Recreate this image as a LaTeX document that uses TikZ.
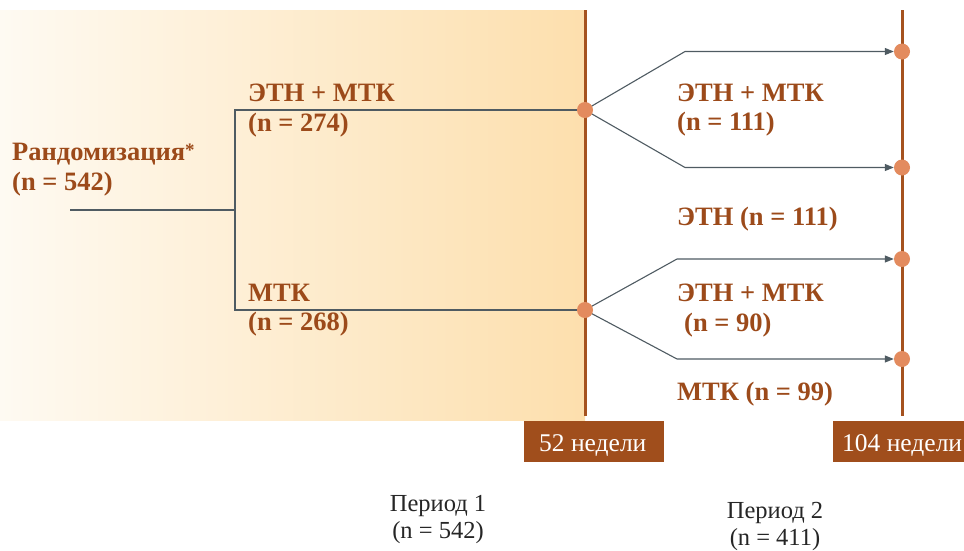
\documentclass[tikz,border=0pt]{standalone}
\usepackage{fontspec}
\setmainfont{Liberation Serif}
\usetikzlibrary{arrows.meta}
\definecolor{brown}{HTML}{9C4A1A}
\definecolor{axis}{HTML}{A5521F}
\definecolor{boxc}{HTML}{A04E1C}
\definecolor{dotc}{HTML}{E38B5E}
\definecolor{linec}{HTML}{4F5B62}
\definecolor{bgl}{HTML}{FEFAF2}
\definecolor{bgr}{HTML}{FDDFAD}
\tikzset{
  lbl/.style={anchor=base west, inner sep=0pt, text=brown, font=\fontsize{26.5}{29}\selectfont\bfseries},
  wk/.style={anchor=base west, inner sep=0pt, text=white, font=\fontsize{25.5}{28}\selectfont},
  per/.style={anchor=base, inner sep=0pt, text=black!85, font=\fontsize{24.5}{27}\selectfont},
  dot/.style={circle, fill=dotc, inner sep=0pt, minimum size=16pt},
  conn/.style={draw=linec, line width=1.1pt},
  arr/.style={conn, -{Triangle[length=9pt,width=7pt]}},
  ax/.style={draw=axis, line width=3pt},
}
\begin{document}
\begin{tikzpicture}[x=1pt,y=-1pt]
\useasboundingbox (0,0) rectangle (964,550);
% background
\shade[left color=bgl, right color=bgr] (0,10) rectangle (585,420);
% axes
\coordinate (a1t) at (585,10); \coordinate (a1b) at (585,416);
\coordinate (a2t) at (902,10); \coordinate (a2b) at (902,416);
\draw[ax] (a1t) -- (a1b);
\draw[ax] (a2t) -- (a2b);
% week boxes
\fill[boxc] (524,421) rectangle (664,461.5);
\fill[boxc] (833,421) rectangle (964,461.5);
\node[wk] (w52) at (539,451.5) {52 недели};
\node[wk] (w104) at (842,451.5) {104 недели};
% left structure
\coordinate (rs) at (70,210);
\coordinate (jm) at (235,210);
\coordinate (ja) at (235,110);
\coordinate (jb) at (235,310);
\coordinate (da) at (585,110);
\coordinate (db) at (585,310);
\draw[conn] (rs) -- (jm);
\draw[conn] (da) -- (ja) -- (jb) -- (db);
% right dots
\node[dot] (e1) at (902,51.5) {};
\node[dot] (e2) at (902,167.5) {};
\node[dot] (e3) at (902,259) {};
\node[dot] (e4) at (902,359) {};
\coordinate (k1) at (685,51.5);
\coordinate (k2) at (685,167.5);
\coordinate (k3) at (677,259);
\coordinate (k4) at (677,359);
\draw[arr] (da) -- (k1) -- (e1.west);
\draw[arr] (da) -- (k2) -- (e2.west);
\draw[arr] (db) -- (k3) -- (e3.west);
\draw[arr] (db) -- (k4) -- (e4.west);
\node[dot] (pa) at (da) {};
\node[dot] (pb) at (db) {};
% labels
\node[lbl] (r1) at (12,160) {Рандомизация\raisebox{4pt}{\fontsize{19}{19}\selectfont*}};
\node[lbl] (r2) at (12,190) {(n = 542)};
\node[lbl] (t1) at (248,101.5) {ЭТН + МТК};
\node[lbl] (t2) at (248,131.5) {(n = 274)};
\node[lbl] (b1) at (248,301.5) {МТК};
\node[lbl] (b2) at (248,330.5) {(n = 268)};
\node[lbl] (s1) at (677,101) {ЭТН + МТК};
\node[lbl] (s2) at (677,130.5) {(n = 111)};
\node[lbl] (s3) at (677,225) {ЭТН (n = 111)};
\node[lbl] (s4) at (677,301.5) {ЭТН + МТК};
\node[lbl] (s5) at (684,331.5) {(n = 90)};
\node[lbl] (s6) at (677,400) {МТК (n = 99)};
% periods
\node[per] (p1a) at (438,511) {Период 1};
\node[per] (p1b) at (438,538) {(n = 542)};
\node[per] (p2a) at (775,518) {Период 2};
\node[per] (p2b) at (775,545) {(n = 411)};
\end{tikzpicture}
\end{document}
